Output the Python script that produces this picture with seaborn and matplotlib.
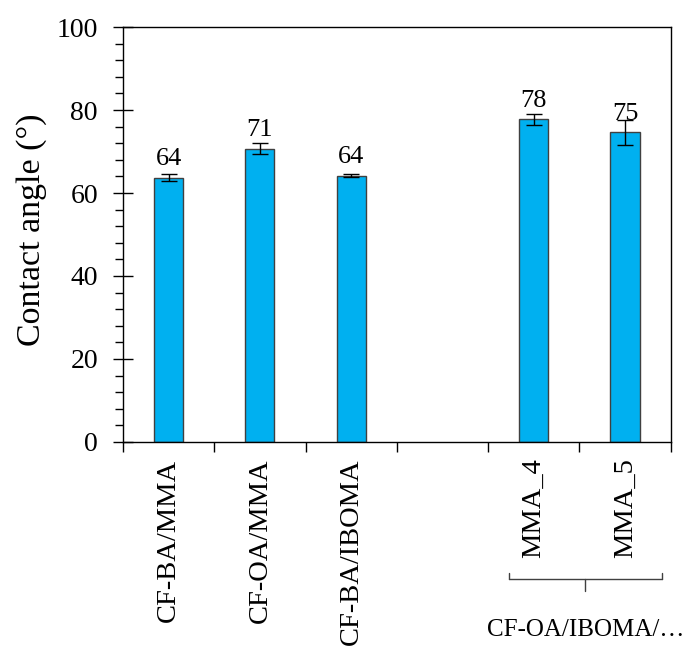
import numpy as np
import pandas as pd
import matplotlib
matplotlib.use("Agg")
import matplotlib.pyplot as plt
import matplotlib.transforms as mtransforms
from matplotlib.ticker import MultipleLocator, FixedLocator, NullFormatter
import seaborn as sns

# Sample groups, mean contact angles and standard deviations
categories = ["CF-BA/MMA", "CF-OA/MMA", "CF-BA/IBOMA", "MMA_4", "MMA_5"]
angles = [63.7, 70.7, 64.2, 77.8, 74.6]
errors = [0.9, 1.3, 0.4, 1.3, 3.1]
value_labels = ["64", "71", "64", "78", "75"]
# Axis order with an empty slot separating the two series of samples
order = ["CF-BA/MMA", "CF-OA/MMA", "CF-BA/IBOMA", " ", "MMA_4", "MMA_5"]
group_label = "CF-OA/IBOMA/\u2026"
y_label = "Contact angle (\u00b0)"

sns.set_theme(style="white")
plt.rcParams["font.family"] = ["Liberation Serif", "DejaVu Serif"]
plt.rcParams.update({"text.color": "black", "axes.labelcolor": "black",
                     "xtick.color": "black", "ytick.color": "black",
                     "axes.edgecolor": "black"})

df = pd.DataFrame({"sample": categories, "angle": angles})

fig = plt.figure(figsize=(6.83, 6.46), dpi=100)
ax = fig.add_axes([0.180, 0.316, 0.802, 0.642])

sns.barplot(data=df, x="sample", y="angle", order=order, color="#00B0F0",
            saturation=1, width=0.32, edgecolor="#404040", linewidth=1.0,
            errorbar=None, ax=ax)

xpos = [order.index(c) for c in categories]
ax.errorbar(xpos, angles, yerr=errors, fmt="none", ecolor="black",
            elinewidth=1.0, capsize=5.5, capthick=1.0, zorder=5)

# value labels sit a fixed distance above each bar top
for x, v, lab in zip(xpos, angles, value_labels):
    ax.annotate(lab, xy=(x, v), xytext=(0, 9), textcoords="offset points",
                ha="center", va="baseline", fontsize=19, color="black",
                zorder=6)

ax.set_xlim(-0.5, len(order) - 0.5)
ax.set_ylim(0, 100)
ax.set_xlabel("")
ax.set_ylabel(y_label, fontsize=24.5, color="black")
ax.yaxis.set_label_coords(-0.139, 0.511)

# y axis: majors every 20 crossing the spine, minors every 4 outward
ax.yaxis.set_major_locator(MultipleLocator(20))
ax.yaxis.set_minor_locator(MultipleLocator(4))
ax.tick_params(axis="y", which="major", direction="inout", length=14,
               width=1.0, labelsize=20, pad=11, left=True, color="black",
               labelcolor="black")
ax.tick_params(axis="y", which="minor", direction="out", length=6,
               width=1.0, left=True, color="black")

# x axis: tick marks at the category boundaries, labels at the centres
ax.xaxis.set_major_locator(FixedLocator(np.arange(len(order), dtype=float)))
ax.set_xticklabels(order, rotation=90, fontsize=20.5, color="black")
ax.xaxis.set_minor_locator(FixedLocator(np.arange(len(order) + 1) - 0.5))
ax.tick_params(axis="x", which="major", length=0, pad=12, labelcolor="black")
ax.tick_params(axis="x", which="minor", direction="out", length=7,
               width=1.0, bottom=True, color="black")
ax.xaxis.set_minor_formatter(NullFormatter())
for lbl in ax.get_xticklabels():
    lbl.set_verticalalignment("top")

for s in ax.spines.values():
    s.set_visible(True)
    s.set_color("black")
    s.set_linewidth(1.0)

# Bracket grouping the last two samples
trans = mtransforms.blended_transform_factory(ax.transData, ax.transAxes)
x0, x1 = xpos[3] - 0.27, xpos[4] + 0.40
xm = (x0 + x1) / 2
y_top, y_bar, y_tip = -0.316, -0.330, -0.359
bracket = [((x0, y_top), (x0, y_bar)), ((x0, y_bar), (x1, y_bar)),
           ((x1, y_bar), (x1, y_top)), ((xm, y_bar), (xm, y_tip))]
for (a, b) in bracket:
    ax.plot([a[0], b[0]], [a[1], b[1]], color="#404040", lw=1.0,
            transform=trans, clip_on=False)
ax.text(xm, -0.453, group_label, transform=trans, ha="center", va="center",
        fontsize=18, color="black")

fig.savefig("out.png", dpi=100)
